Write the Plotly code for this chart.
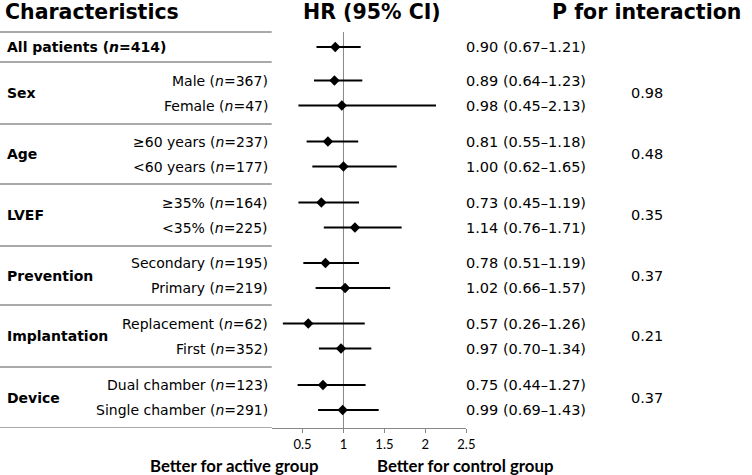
import plotly.graph_objects as go

# ---- data ----
groups = ["Sex", "Age", "LVEF", "Prevention", "Implantation", "Device"]
subgroups = [
    ["Male (<i>n</i>=367)", "Female (<i>n</i>=47)"],
    ["≥60 years (<i>n</i>=237)", "<60 years (<i>n</i>=177)"],
    ["≥35% (<i>n</i>=164)", "<35% (<i>n</i>=225)"],
    ["Secondary (<i>n</i>=195)", "Primary (<i>n</i>=219)"],
    ["Replacement (<i>n</i>=62)", "First (<i>n</i>=352)"],
    ["Dual chamber (<i>n</i>=123)", "Single chamber (<i>n</i>=291)"],
]
overall_label = "All patients (<i>n</i>=414)"
overall_hr, overall_lo, overall_hi = 0.90, 0.67, 1.21
hr = [[0.89, 0.98], [0.81, 1.00], [0.73, 1.14], [0.78, 1.02], [0.57, 0.97], [0.75, 0.99]]
lo = [[0.64, 0.45], [0.55, 0.62], [0.45, 0.76], [0.51, 0.66], [0.26, 0.70], [0.44, 0.69]]
hi = [[1.23, 2.13], [1.18, 1.65], [1.19, 1.71], [1.19, 1.57], [1.26, 1.34], [1.27, 1.43]]
p_interaction = ["0.98", "0.48", "0.35", "0.37", "0.21", "0.37"]
tick_vals = [0.5, 1, 1.5, 2, 2.5]
tick_text = ["0.5", "1", "1.5", "2", "2.5"]

# ---- layout geometry (pixels) ----
W, H = 752, 475
seps = [32, 62, 124, 184, 246, 305, 367, 428]
half = 12.5
FONT = "DejaVu Sans"

def px(x):
    return x / W

rows_y, rows_hr, rows_lo, rows_hi = [], [], [], []
overall_y = (seps[0] + seps[1]) / 2
rows_y.append(overall_y)
rows_hr.append(overall_hr); rows_lo.append(overall_lo); rows_hi.append(overall_hi)
centers = []
for i in range(len(groups)):
    c = (seps[i + 1] + seps[i + 2]) / 2
    centers.append(c)
    for j in range(2):
        rows_y.append(c - half if j == 0 else c + half)
        rows_hr.append(hr[i][j]); rows_lo.append(lo[i][j]); rows_hi.append(hi[i][j])

fig = go.Figure()
fig.add_trace(go.Scatter(
    x=rows_hr, y=rows_y, mode="markers",
    marker=dict(symbol="diamond", size=8, color="black"),
    error_x=dict(type="data", symmetric=False,
                 array=[h - m for h, m in zip(rows_hi, rows_hr)],
                 arrayminus=[m - l for m, l in zip(rows_hr, rows_lo)],
                 thickness=2, width=0, color="black"),
    showlegend=False, hoverinfo="skip", cliponaxis=False,
))

ann = []
def text(x, y, s, size=14, bold=False, anchor="left", color="black", family=FONT, yref="y"):
    if bold:
        s = "<b>" + s + "</b>"
    ann.append(dict(x=px(x), y=y, xref="paper", yref=yref, text=s, showarrow=False,
                    xanchor=anchor, yanchor="middle",
                    font=dict(size=size, family=family, color=color)))

# headers
text(3, 12, "Characteristics", size=20.5, bold=True)
text(377, 12, "HR (95% CI)", size=20.5, bold=True, anchor="center")
text(654, 12, "P for interaction", size=20.5, bold=True, anchor="center")

# overall row
text(5, overall_y, overall_label, bold=True)
text(470, overall_y, f"{overall_hr:.2f} ({overall_lo:.2f}–{overall_hi:.2f})", size=14.5)

for i, g in enumerate(groups):
    c = centers[i]
    text(5, c, g, bold=True)
    for j in range(2):
        y = c - half if j == 0 else c + half
        text(273, y, subgroups[i][j], anchor="right")
        text(470, y, f"{hr[i][j]:.2f} ({lo[i][j]:.2f}–{hi[i][j]:.2f})", size=14.5)
    text(655, c, p_interaction[i], anchor="center", size=14.5)

# bottom labels
text(237, (H - 465) / H, "Better for active group", size=16.8, bold=True, anchor="center",
     family="Lato", yref="paper")
text(471, (H - 465) / H, "Better for control group", size=16.8, bold=True, anchor="center",
     family="Lato", yref="paper")

shapes = []
for s in seps:
    shapes.append(dict(type="line", xref="paper", yref="y", x0=0, x1=px(275), y0=s, y1=s,
                       line=dict(color="#555555", width=1)))
shapes.append(dict(type="line", xref="x", yref="y", x0=1, x1=1, y0=seps[0], y1=seps[-1],
                   line=dict(color="#888888", width=1), layer="below"))

fig.update_layout(
    width=W, height=H,
    margin=dict(l=0, r=0, t=0, b=0),
    paper_bgcolor="white", plot_bgcolor="white",
    annotations=ann, shapes=shapes,
    xaxis=dict(domain=[px(275), px(472)], range=[0.124, 2.5],
               showline=True, linecolor="#888888", linewidth=1,
               ticks="outside", ticklen=4, tickcolor="#888888",
               tickvals=tick_vals, ticktext=tick_text,
               tickfont=dict(family="Lato", size=13, color="black"),
               showgrid=False, zeroline=False, fixedrange=True),
    yaxis=dict(domain=[(H - seps[-1]) / H, 1], range=[seps[-1], 0],
               visible=False, showgrid=False, zeroline=False, fixedrange=True),
)

fig.write_html("out.html", config={"displayModeBar": False},
               post_script="document.body.style.margin='0';document.body.style.padding='0';"
                           "document.body.style.overflow='hidden';")
